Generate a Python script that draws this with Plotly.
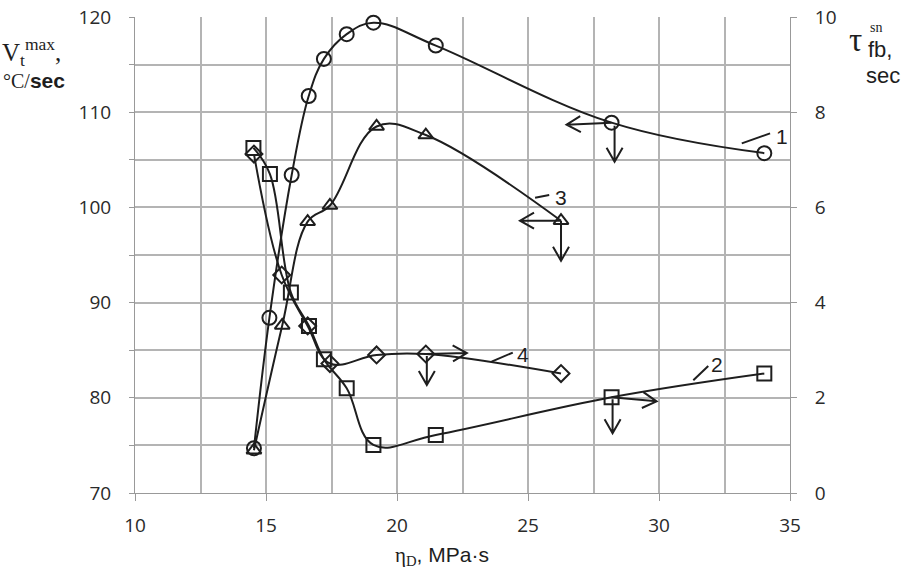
import math
import plotly.graph_objects as go

# ---- data ----
x_circ = [14.54, 15.13, 15.98, 16.63, 17.21, 18.08, 19.10, 21.48, 28.19, 34.02]
v_circ = [74.7, 88.4, 103.4, 111.7, 115.6, 118.2, 119.4, 117.0, 108.9, 105.7]   # curve 1, left axis

x_tri = [14.54, 15.62, 16.59, 17.44, 19.22, 21.10, 26.26]
v_tri = [74.5, 87.6, 98.5, 100.2, 108.5, 107.6, 98.6]                          # curve 3, left axis

x_sq = [14.52, 15.15, 15.95, 16.64, 17.21, 18.08, 19.10, 21.48, 28.19, 34.02]
t_sq = [7.25, 6.70, 4.21, 3.51, 2.81, 2.20, 1.01, 1.22, 2.01, 2.51]           # curve 2, right axis

x_dia = [14.54, 15.60, 16.59, 17.44, 19.22, 21.10, 26.26]
t_dia = [7.12, 4.58, 3.51, 2.72, 2.90, 2.92, 2.51]                             # curve 4, right axis

x_ticks = [10, 15, 20, 25, 30, 35]
yl_ticks = [70, 80, 90, 100, 110, 120]
yr_ticks = [0, 2, 4, 6, 8, 10]

# curve labels: (text, x, y, axis, dash x0, y0, x1, y1)
labels = [
    ("1", 34.68, 107.5, "y", 33.16, 106.73, 34.24, 107.78),
    ("3", 26.26, 101.0, "y", 25.27, 101.02, 25.81, 101.30),
    ("4", 24.81, 2.90, "y2", 23.61, 2.76, 24.42, 2.95),
    ("2", 32.21, 2.69, "y2", 31.31, 2.37, 31.88, 2.67),
]

INK = "#1e1e1e"
GRID = "#b4b4b4"

fig = go.Figure()

def add_curve(xs, ys, symbol, size, axis):
    fig.add_trace(go.Scatter(
        x=xs, y=ys, mode="lines+markers", yaxis=axis,
        line=dict(color=INK, width=2, shape="spline", smoothing=1.1),
        marker=dict(symbol=symbol, size=size, color=INK, line=dict(width=2, color=INK)),
        showlegend=False, cliponaxis=False))

add_curve(x_circ, v_circ, "circle-open", 14, "y")
add_curve(x_tri, v_tri, "triangle-up-open", 13, "y")
add_curve(x_sq, t_sq, "square-open", 14, "y2")
add_curve(x_dia, t_dia, "diamond-open", 13, "y2")

# axis-pointer arrows, anchored at data points (pixel offsets, y up)
def arrow(x, y, axis, dx, dy, ox=0, oy=0, head=14, spread=8):
    sx, sy = ox, oy
    ex, ey = ox + dx, oy + dy
    ln = math.hypot(dx, dy)
    ux, uy = dx / ln, dy / ln
    bx, by = ex - ux * head, ey - uy * head
    nx, ny = -uy, ux
    a1 = (bx + nx * spread, by + ny * spread)
    a2 = (bx - nx * spread, by - ny * spread)
    path = (f"M{sx},{sy} L{ex},{ey} M{a1[0]:.1f},{a1[1]:.1f} L{ex},{ey} "
            f"L{a2[0]:.1f},{a2[1]:.1f}")
    fig.add_shape(type="path", xref="x", yref=axis, xsizemode="pixel", ysizemode="pixel",
                  xanchor=x, yanchor=y, path=path, line=dict(color=INK, width=2))

arrow(x_circ[8], v_circ[8], "y", -45, -2)
arrow(x_circ[8], v_circ[8], "y", 0, -36, ox=3, oy=-3)
arrow(x_tri[6], v_tri[6], "y", -41, 0)
arrow(x_tri[6], v_tri[6], "y", 0, -40)
arrow(x_dia[5], t_dia[5], "y2", 41, 1)
arrow(x_dia[5], t_dia[5], "y2", 0, -29, ox=1, oy=-2)
arrow(x_sq[8], t_sq[8], "y2", 45, -4)
arrow(x_sq[8], t_sq[8], "y2", 0, -34, ox=1, oy=-2)

for txt, lx, ly, ax_, dx0, dy0, dx1, dy1 in labels:
    fig.add_annotation(x=lx, y=ly, xref="x", yref=ax_, text=txt, showarrow=False,
                       font=dict(family="Liberation Sans", size=21, color=INK))
    fig.add_shape(type="line", xref="x", yref=ax_, x0=dx0, y0=dy0, x1=dx1, y1=dy1,
                  line=dict(color=INK, width=2))

# titles
L, R, T, B = 135, 790, 17, 493
W, H = R - L, B - T
def px(x):
    return (x - L) / W
def py(y):
    return (B - y) / H

def title(text, x, y, family, size):
    fig.add_annotation(xref="paper", yref="paper", x=px(x), y=py(y), xanchor="left",
                       yanchor="top", text=text, showarrow=False, borderpad=0,
                       font=dict(family=family, size=size, color=INK))

title("V<sub>t</sub><sup>max</sup>,", 1, 33, "Liberation Serif", 25)
title("°C/<span style='font-family:Liberation Sans;font-size:21px'><b>sec</b></span>",
      2, 68, "Liberation Serif", 20)
title("τ", 848, 21, "Liberation Serif", 33)
title("sn", 869, 19, "Liberation Serif", 14)
title("fb,", 867, 36, "Liberation Sans", 22)
title("sec", 865, 62, "Liberation Sans", 22)
title("η<sub>D</sub><span style='font-family:Liberation Sans;font-size:21px'>, MPa·s</span>",
      394, 542, "Liberation Serif", 21)

tickfont = dict(family="Open Sans", size=19, color="#2a2a2a")

fig.update_layout(
    width=917, height=570,
    margin=dict(l=L, r=917 - R, t=T, b=570 - B, pad=0),
    paper_bgcolor="white", plot_bgcolor="white",
    xaxis=dict(range=[10, 35], tickvals=x_ticks, ticks="outside", ticklen=7, tickcolor="#999",
               showline=True, linecolor="#999", linewidth=1, mirror=False,
               showgrid=True, gridcolor=GRID, gridwidth=1.5,
               minor=dict(dtick=2.5, showgrid=True, gridcolor=GRID, gridwidth=1.5),
               tickfont=tickfont, ticklabelstandoff=8, zeroline=False, automargin=False),
    yaxis=dict(range=[70, 120], tickvals=yl_ticks,
               ticks="outside", ticklen=5, tickcolor="#999",
               showline=True, linecolor="#999", linewidth=1,
               showgrid=True, gridcolor=GRID, gridwidth=1.5,
               minor=dict(dtick=5, showgrid=True, gridcolor=GRID, gridwidth=1.5,
                          ticks="outside", ticklen=5, tickcolor="#999"),
               tickfont=tickfont, ticklabelstandoff=14, zeroline=False, automargin=False),
    yaxis2=dict(range=[0, 10], tickvals=yr_ticks, overlaying="y", side="right",
                ticks="outside", ticklen=6, tickcolor="#999",
                showline=True, linecolor="#999", linewidth=1,
                showgrid=False, tickfont=tickfont, ticklabelstandoff=14, zeroline=False,
                automargin=False),
)

fig.write_html("out.html", config={"displayModeBar": False},
               post_script="document.body.style.margin='0';")
